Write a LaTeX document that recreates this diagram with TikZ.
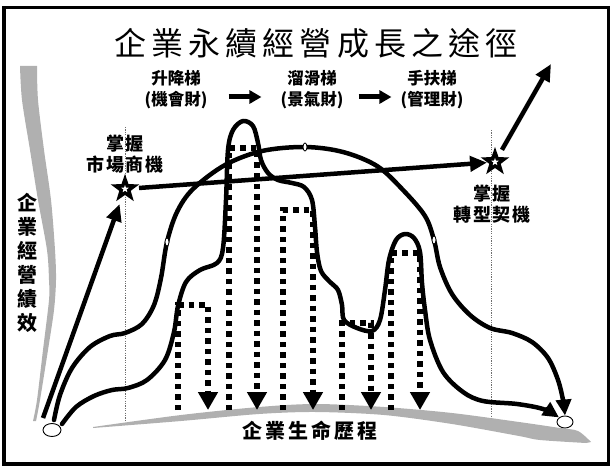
\documentclass[tikz,border=0pt]{standalone}
\usepackage{fontspec}
\newfontfamily\cjk{Noto Sans CJK TC}
\usetikzlibrary{arrows.meta,shapes.geometric}
\definecolor{axisgray}{RGB}{176,176,176}
\definecolor{guidegray}{RGB}{110,110,110}

\begin{document}
\begin{tikzpicture}[x=1pt, y=-1pt,
	curveline/.style={line width=4.5pt, line cap=round, line join=round},
	curvearrow/.style={curveline, -{Triangle[width=15pt,length=16pt]}},
	bigarrow/.style={line width=4.5pt, -{Triangle[width=15pt,length=17pt]}},
	hdrarrow/.style={line width=5pt, -{Triangle[width=13pt,length=12pt]}},
	droparrow/.style={line width=5.5pt, dash pattern=on 5.5pt off 5pt, -{Triangle[width=19pt,length=18pt]}},
	guideline/.style={guidegray, line width=.6pt, dash pattern=on 1.2pt off 1.2pt},
	bigstar/.style={star, star points=5, star point ratio=2.5, fill=black, minimum size=30pt, inner sep=0},
	smallstar/.style={star, star points=5, star point ratio=2.4, fill=white, minimum size=8pt, inner sep=0},
	endcircle/.style={ellipse, draw, line width=.9pt, fill=white, inner sep=0},
	marker/.style={ellipse, draw, line width=.8pt, fill=white, minimum width=4pt, minimum height=8pt, inner sep=0},
	hdr/.style={align=center, inner sep=1pt, font=\cjk\bfseries\fontsize{16.5}{21}\selectfont},
	sidelbl/.style={align=center, inner sep=1pt, font=\cjk\bfseries\fontsize{18}{21.5}\selectfont\addfontfeatures{LetterSpace=8}},
	vlbl/.style={align=center, inner sep=1pt, font=\cjk\bfseries\fontsize{20}{24}\selectfont},
	every node/.style={font=\cjk}
	]
	\useasboundingbox (0,0) rectangle (612,473);
	\draw [line width=3.5pt] (4,7.5) rectangle (608.5,464);

	% gray axes
	\fill [axisgray] plot [smooth] coordinates {(33,421) (37,400) (43,350) (49,300) (49,280) (47,250) (38,200) (30,150) (22,100) (20,66)}
		-- plot [smooth] coordinates {(37,66) (38,100) (44,150) (51,200) (55,250) (56,280) (54,310) (48,350) (40,400) (36,421)} -- cycle;
	\fill [axisgray] plot [smooth] coordinates {(93,427) (181,415) (259,407) (316,404) (384,407) (452,413) (519,422) (560,428) (578,431) (591,442)}
		-- plot [smooth] coordinates {(586,443) (540,440) (519,436) (452,424) (384,415) (316,412) (259,414) (181,421) (93,428)} -- cycle;

	\draw [guideline] (125,127) -- (125,420);
	\draw [guideline] (491,130) -- (491,418);

	\foreach \xl/\xr/\ytop in {178/208/305, 229/257/148, 283/313/210, 342/371/323, 391/420/253}
		\draw [droparrow] (\xl,410) -- (\xl,\ytop) -- (\xr,\ytop) -- (\xr,410);

	\node (birth) at (52,430) [endcircle, minimum width=18pt, minimum height=13pt] {};
	\node (exit) at (565,422) [endcircle, minimum width=16pt, minimum height=12pt] {};

	\draw [curvearrow] plot [smooth, tension=.55] coordinates {(54,420) (60,395) (72,368) (90,347) (110,336) (125,333) (142,324) (154,305) (161,278) (167,242) (177,212) (193,189) (225,165) (262,151) (305,147) (343,152) (377,166) (403,190) (425,216) (434,240) (440,267) (452,294) (470,315) (490,328) (512,333) (532,342) (548,358) (558,380) (563,400) (exit.north)};
	\draw [curvearrow] plot [smooth, tension=.55] coordinates {(62,424) (76,407) (94,396) (112,390) (128,388) (147,380) (165,360) (174,332) (178,306) (186,282) (200,270) (217,263) (223,248) (226,200) (228,150) (233,130) (243,121) (253,126) (258,143) (261,160) (268,173) (278,180) (292,183) (304,187) (312,200) (315,227) (317,252) (321,271) (330,282) (338,290) (342,305) (344,320) (357,328) (372,331) (380,320) (385,290) (389,260) (396,240) (405,234) (414,238) (420,252) (422,283) (425,310) (430,340) (443,372) (463,392) (483,401) (517,404) (543,409) (exit.north west)};

	\node (m1) at (167,242) [marker] {};
	\node (m2) at (305,147) [marker] {};
	\node (m3) at (434,240) [marker] {};

	\node (starL) at (125,189) [bigstar] {};
	\node at (starL) [smallstar] {};
	\node (starR) at (495,162) [bigstar] {};
	\node at (starR) [smallstar] {};

	\coordinate (lowL) at (43,418);
	\coordinate (topR) at (551,64);
	\draw [bigarrow, shorten >=16pt] (lowL) -- (starL.center);
	\draw [bigarrow, shorten <=14pt, shorten >=8pt] (starL.center) -- (starR.center);
	\draw [bigarrow, shorten <=14pt] (starR.center) -- (topR);

	\node (title) at (316,43) [font=\cjk\fontsize{32}{36}\selectfont\addfontfeatures{LetterSpace=16}] {企業永續經營成長之途徑};

	\node (lift) at (176,90) [hdr] {升降梯\\(機會財)};
	\node (slide) at (312,90) [hdr] {溜滑梯\\(景氣財)};
	\node (escal) at (432,90) [hdr] {手扶梯\\(管理財)};
	\draw [hdrarrow] ([xshift=20pt, yshift=-7pt]lift.east) -- ([xshift=-18pt, yshift=-7pt]slide.west);
	\draw [hdrarrow] ([xshift=14pt, yshift=-7pt]slide.east) -- ([xshift=-8pt, yshift=-7pt]escal.west);

	\node (mktlbl) at (125,154) [sidelbl] {掌握\\市場商機};
	\node (turnlbl) at (492,204) [sidelbl] {掌握\\轉型契機};
	\node (perf) at (27,263) [vlbl] {企\\業\\經\\營\\績\\效};
	\node (life) at (310,431) [font=\cjk\bfseries\fontsize{20}{24}\selectfont\addfontfeatures{LetterSpace=15}] {企業生命歷程};
\end{tikzpicture}
\end{document}
